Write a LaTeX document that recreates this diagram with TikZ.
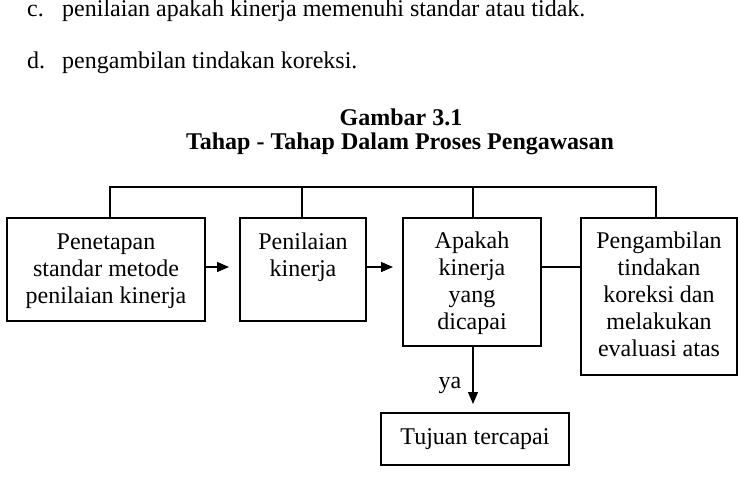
\documentclass[tikz,border=0pt]{standalone}
\usepackage{fontspec}
\setmainfont{Liberation Serif}
\usetikzlibrary{arrows.meta}
\begin{document}
\begin{tikzpicture}[x=1pt,y=-1pt,
  box/.style={draw, line width=1.4pt, rectangle, inner sep=0pt, outer sep=0pt},
  txt/.style={align=center, inner sep=0pt, font=\fontsize{24}{27}\selectfont},
  ttl/.style={inner sep=0pt, font=\fontsize{24}{27}\selectfont\bfseries},
  conn/.style={line width=1.3pt},
  arr/.style={conn, -{Triangle[length=12pt,width=10pt]}}]
\useasboundingbox (0,0) rectangle (738,480);
% text above
\node[txt, anchor=base west] (cl) at (27,16) {c.};
\node[txt, anchor=base west] (ct) at (62,16) {penilaian apakah kinerja memenuhi standar atau tidak.};
\node[txt, anchor=base west] (dl) at (27,68) {d.};
\node[txt, anchor=base west] (dt) at (62,68) {pengambilan tindakan koreksi.};
% title
\node[ttl, anchor=base] (g1) at (401,125) {Gambar 3.1};
\node[ttl, anchor=base] (g2) at (400,149) {Tahap - Tahap Dalam Proses Pengawasan};
% boxes
\node[box, minimum width=198pt, minimum height=103pt, anchor=north west] (b1) at (7,218) {};
\node[box, minimum width=126pt, minimum height=103pt, anchor=north west] (b2) at (240,218) {};
\node[box, minimum width=138pt, minimum height=128pt, anchor=north west] (b3) at (403,218) {};
\node[box, minimum width=156pt, minimum height=157pt, anchor=north west] (b4) at (581,218) {};
\node[box, minimum width=188pt, minimum height=52pt, font=\fontsize{24}{27}\selectfont] (b5) at (475,439) {Tujuan tercapai};
% box texts
\node[txt, anchor=north] (t1) at (106,230.1) {\strut Penetapan\\standar metode\\penilaian kinerja};
\node[txt, anchor=north] (t2) at (303,230.1) {\strut Penilaian\\kinerja};
\node[txt, anchor=north] (t3) at (472,229.1) {\strut Apakah\\kinerja\\yang\\dicapai};
\node[txt, anchor=north] (t4) at (659,229.1) {\strut Pengambilan\\tindakan\\koreksi dan\\melakukan\\evaluasi atas};
% connectors
\coordinate (top) at (0,187);
\coordinate (mid) at (0,267);
\draw[conn] ([xshift=4pt]b1.north) -- ([xshift=4pt]b1.north |- top) -- ([xshift=-3pt]b4.north |- top) -- ([xshift=-3pt]b4.north);
\draw[conn] ([xshift=-1pt]b2.north) -- ([xshift=-1pt]b2.north |- top);
\draw[conn] ([xshift=1pt]b3.north) -- ([xshift=1pt]b3.north |- top);
\draw[arr, shorten >=11pt] (b1.east |- mid) -- (b2.west |- mid);
\draw[arr, shorten >=10pt] (b2.east |- mid) -- (b3.west |- mid);
\draw[conn] (b3.east |- mid) -- (b4.west |- mid);
\draw[arr, shorten >=9pt] ([xshift=1pt]b3.south) -- ([xshift=1pt]b3.south |- b5.north);
\node[txt, anchor=base] (ya) at (450,388) {ya};
\end{tikzpicture}
\end{document}
